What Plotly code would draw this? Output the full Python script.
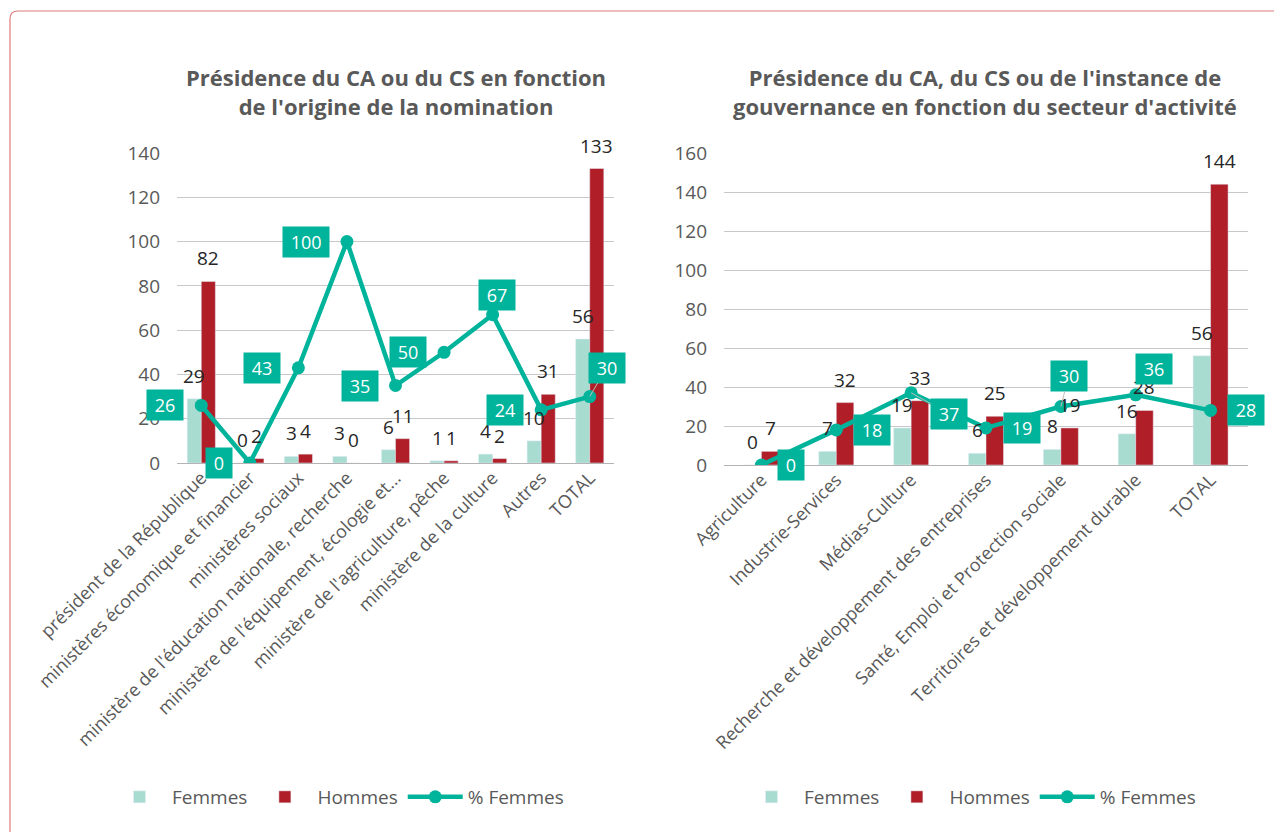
import plotly.graph_objects as go

# --- data ---
cat_left = ["président de la République", "ministères économique et financier", "ministères sociaux",
            "ministère de l'éducation nationale, recherche", "ministère de l'équipement, écologie et...",
            "ministère de l'agriculture, pêche", "ministère de la culture", "Autres", "TOTAL"]
femmes_left = [29, 0, 3, 3, 6, 1, 4, 10, 56]
hommes_left = [82, 2, 4, 0, 11, 1, 2, 31, 133]
pct_left = [26, 0, 43, 100, 35, 50, 67, 24, 30]

cat_right = ["Agriculture", "Industrie-Services", "Médias-Culture",
             "Recherche et développement des entreprises", "Santé, Emploi et Protection sociale",
             "Territoires et développement durable", "TOTAL"]
femmes_right = [0, 7, 19, 6, 8, 16, 56]
hommes_right = [7, 32, 33, 25, 19, 28, 144]
pct_right = [0, 18, 37, 19, 30, 36, 28]

title_left = "Présidence du CA ou du CS en fonction<br>de l'origine de la nomination"
title_right = "Présidence du CA, du CS ou de l'instance de<br>gouvernance en fonction du secteur d'activité"

# --- style ---
FONT = "Open Sans"
GREY = "#595959"
C_F = "#A8DCD1"
C_H = "#B01E28"
C_P = "#00B39B"
W, H = 1282, 832
OFF = 8  # page body margin, positions below are screen px minus this


def px(x):
    return (x - OFF) / W


def py(y):
    return 1 - (y - OFF) / H


# label offsets (px) of the % boxes relative to their point
off_left = [(-36, 0), (-31, 0), (-36, 0), (-41, 0), (-36, 0), (-36, 0), (4, -20), (-36, 0), (17, -29)]
lead_left = [False] * 8 + [True]
off_right = [(30, 0), (36, 0), (38, 21), (36, 0), (8, -31), (18, -26), (35, 0)]
lead_right = [False, False, True, False, True, False, False]

fig = go.Figure()


def add_panel(cats, fem, hom, pct, xs, ys, leg, offs, leads, bw, half):
    fig.add_trace(go.Bar(x=cats, y=fem, name="Femmes", marker_color=C_F, xaxis=xs, yaxis=ys,
                         legend=leg, width=bw, offset=-bw))
    fig.add_trace(go.Bar(x=cats, y=hom, name="Hommes", marker_color=C_H, xaxis=xs, yaxis=ys,
                         legend=leg, width=bw, offset=0))
    fig.add_trace(go.Scatter(x=cats, y=pct, name="% Femmes", mode="lines+markers",
                             line=dict(color=C_P, width=4.5), marker=dict(size=13, color=C_P),
                             xaxis=xs, yaxis=ys, legend=leg))
    for c, v in zip(cats, fem):
        fig.add_annotation(x=c, y=v, xref=xs, yref=ys, text=str(v), showarrow=False,
                           xshift=-half, yshift=23, font=dict(size=19, color="#262626"))
    for c, v in zip(cats, hom):
        fig.add_annotation(x=c, y=v, xref=xs, yref=ys, text=str(v), showarrow=False,
                           xshift=half, yshift=23, font=dict(size=19, color="#262626"))
    for c, v, (dx, dy), ld in zip(cats, pct, offs, leads):
        txt = "\u00a0" + str(v) + "\u00a0"
        if ld:
            fig.add_annotation(x=c, y=v, xref=xs, yref=ys, text=txt, showarrow=True,
                               ax=dx, ay=dy, arrowhead=0, arrowwidth=1, arrowcolor="#BFBFBF",
                               bgcolor=C_P, borderpad=3, font=dict(size=18, color="white"))
        else:
            fig.add_annotation(x=c, y=v, xref=xs, yref=ys, text=txt, showarrow=False,
                               xshift=dx, yshift=-dy, bgcolor=C_P, borderpad=3,
                               font=dict(size=18, color="white"))


add_panel(cat_left, femmes_left, hommes_left, pct_left, "x", "y", "legend",
          off_left, lead_left, 0.29, 7)
add_panel(cat_right, femmes_right, hommes_right, pct_right, "x2", "y2", "legend2",
          off_right, lead_right, 0.234, 8.75)

ax_common = dict(tickangle=-45, tickfont=dict(size=18, color=GREY, family=FONT), showgrid=False,
                 showline=False, ticks="", automargin=False)
ay_common = dict(dtick=20, showgrid=True, gridcolor="#C8C8C8", gridwidth=1, zeroline=True,
                 zerolinecolor="#B4B4B4", zerolinewidth=1, tickfont=dict(size=19, color=GREY, family=FONT),
                 ticklabelstandoff=16, showline=False, automargin=False)

fig.update_layout(
    width=W, height=H,
    margin=dict(l=0, r=0, t=0, b=0, autoexpand=False),
    paper_bgcolor="white", plot_bgcolor="white",
    font=dict(family=FONT, color=GREY),
    barmode="overlay",
    xaxis=dict(domain=[px(177), px(614)], anchor="y", range=[-0.5, len(cat_left) - 0.5], **ax_common),
    yaxis=dict(domain=[py(463), py(153)], range=[0, 140], anchor="x", **ay_common),
    xaxis2=dict(domain=[px(724), px(1248)], anchor="y2", range=[-0.5, len(cat_right) - 0.5], **ax_common),
    yaxis2=dict(domain=[py(465), py(153)], range=[0, 160], anchor="x2", **ay_common),
    legend=dict(orientation="h", x=px(338), y=py(797), xanchor="center", yanchor="middle",
                font=dict(size=19, color=GREY), itemwidth=55),
    legend2=dict(orientation="h", x=px(970), y=py(797), xanchor="center", yanchor="middle",
                 font=dict(size=19, color=GREY), itemwidth=55),
)

fig.add_annotation(x=px(396), y=py(91), xref="paper", yref="paper", showarrow=False,
                   xanchor="center", yanchor="middle",
                   text="<b>" + title_left + "</b>", font=dict(size=22, color=GREY), align="center")
fig.add_annotation(x=px(985), y=py(91), xref="paper", yref="paper", showarrow=False,
                   xanchor="center", yanchor="middle",
                   text="<b>" + title_right + "</b>", font=dict(size=22, color=GREY), align="center")

# rounded frame (only top and left edges are visible in the view)
x0, yt, rx, ry = px(10), py(11), 8 / W, 8 / H
fig.add_shape(type="path", xref="paper", yref="paper",
              path=f"M {x0},-0.1 L {x0},{yt - ry} Q {x0},{yt} {x0 + rx},{yt} L 1.1,{yt}",
              line=dict(color="#E07B7B", width=1.2))

fig.write_html("out.html")
